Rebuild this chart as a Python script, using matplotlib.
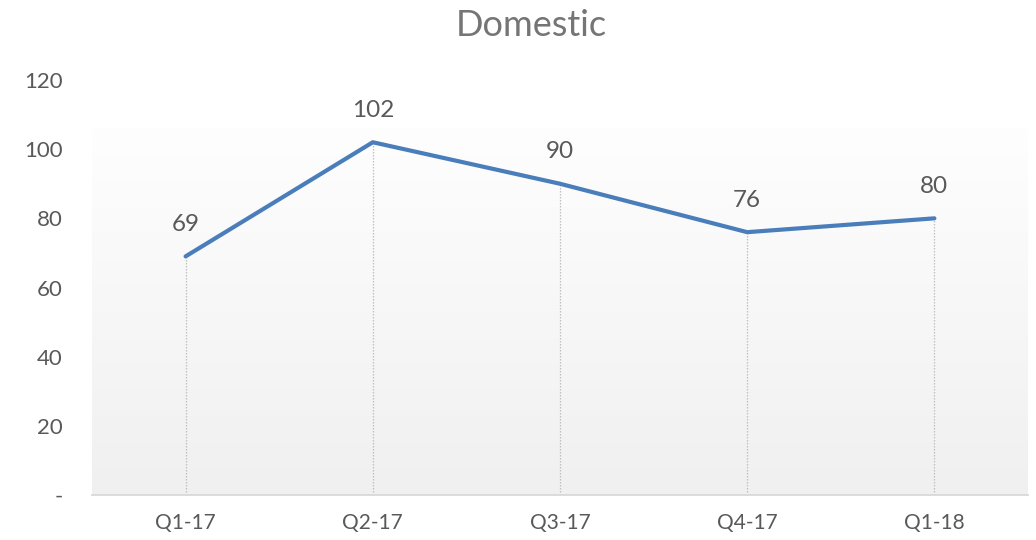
import numpy as np
import matplotlib.pyplot as plt
from matplotlib.colors import LinearSegmentedColormap

# data
quarters = ['Q1-17', 'Q2-17', 'Q3-17', 'Q4-17', 'Q1-18']
domestic = [69, 102, 90, 76, 80]
y_ticks = [0, 20, 40, 60, 80, 100, 120]
y_tick_labels = ['-', '20', '40', '60', '80', '100', '120']

plt.rcParams['font.family'] = ['Lato', 'DejaVu Sans']

fig = plt.figure(figsize=(10.36, 5.4), dpi=100)
ax = fig.add_axes([92 / 1036, 45 / 540, 936 / 1036, 415 / 540])

x = np.arange(len(quarters))

# plot area gradient (white at top to light gray at bottom)
grad = np.linspace(1, 0, 256).reshape(-1, 1)
cmap = LinearSegmentedColormap.from_list('bg', ['#F0F0F0', '#FEFEFE'])
ax.imshow(grad, extent=[-0.5, 4.5, 0, 106], aspect='auto', cmap=cmap,
          origin='upper', zorder=0, vmin=0, vmax=1)

# drop lines
ax.vlines(x, 0, domestic, colors='#BFBFBF', linestyles=(0, (1.2, 1.2)),
          linewidth=0.9, zorder=1)

ax.plot(x, domestic, color='#4A7EBB', linewidth=3, solid_capstyle='round',
        solid_joinstyle='round', zorder=3)

for xi, val in zip(x, domestic):
    ax.annotate(str(val), (xi, val), xytext=(0, 23), textcoords='offset points',
                ha='center', va='center', fontsize=17.5, color='#595959')

ax.set_xlim(-0.5, 4.5)
ax.set_ylim(0, 120)
ax.set_xticks(x)
ax.set_xticklabels(quarters, fontsize=15, color='#595959')
ax.set_yticks(y_ticks)
ax.set_yticklabels(y_tick_labels, fontsize=16, color='#595959')
ax.tick_params(axis='both', length=0)
ax.tick_params(axis='y', pad=21)
ax.tick_params(axis='x', pad=13)

for side in ['top', 'right', 'left']:
    ax.spines[side].set_visible(False)
ax.spines['bottom'].set_color('#D9D9D9')
ax.spines['bottom'].set_linewidth(1.3)
ax.set_facecolor('none')

fig.text(0.513, 1 - 25 / 540, 'Domestic', ha='center', va='center',
         fontsize=26, color='#757575')

fig.savefig('out.png', dpi=100)
